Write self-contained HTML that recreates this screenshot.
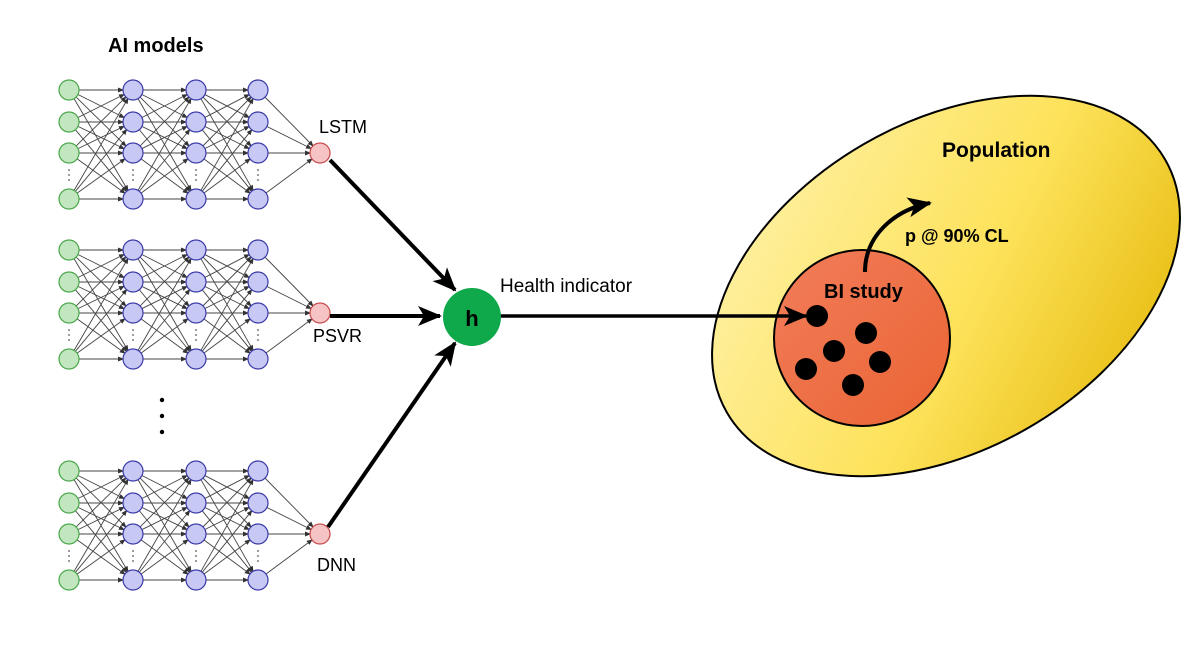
<!DOCTYPE html>
<html><head><meta charset="utf-8"><style>
html,body{margin:0;padding:0;background:#fff;}
svg{display:block;}
text{font-family:"Liberation Sans",sans-serif;}
</style></head><body>
<svg id="s" width="1200" height="645" viewBox="0 0 1200 645" xmlns="http://www.w3.org/2000/svg">
<defs>
<marker id="sa" markerWidth="6" markerHeight="6" refX="5" refY="3" orient="auto" markerUnits="userSpaceOnUse"><path d="M0,0.5 L6,3 L0,5.5z" fill="#333"/></marker>
<marker id="ba" markerWidth="30" markerHeight="24" refX="22" refY="12" orient="auto" markerUnits="userSpaceOnUse"><path d="M0,2 L24,12 L0,22 L6,12z" fill="#000"/></marker>
<linearGradient id="yg" x1="0" y1="0" x2="1" y2="1"><stop offset="0" stop-color="#fff3b0"/><stop offset="0.55" stop-color="#fde25a"/><stop offset="1" stop-color="#e2b400"/></linearGradient>
<linearGradient id="og" x1="0" y1="0" x2="1" y2="1"><stop offset="0" stop-color="#f27d5a"/><stop offset="1" stop-color="#ea6434"/></linearGradient>
</defs>
<g id="nets"></g>
<text x="108" y="52" font-size="20" font-weight="bold">AI models</text>
<text x="319" y="133" font-size="18">LSTM</text>
<text x="313" y="342" font-size="18">PSVR</text>
<text x="317" y="571" font-size="18">DNN</text>
<circle cx="162" cy="400" r="2.2" fill="#000"/><circle cx="162" cy="416" r="2.2" fill="#000"/><circle cx="162" cy="432" r="2.2" fill="#000"/>
<line x1="330" y1="160" x2="455" y2="290" stroke="#000" stroke-width="4" marker-end="url(#ba)"/>
<line x1="330" y1="316" x2="440" y2="316" stroke="#000" stroke-width="4" marker-end="url(#ba)"/>
<line x1="328" y1="527" x2="455" y2="343" stroke="#000" stroke-width="4" marker-end="url(#ba)"/>
<ellipse cx="946" cy="286" rx="253" ry="164" transform="rotate(-30 946 286)" fill="url(#yg)" stroke="#000" stroke-width="2"/>
<circle cx="862" cy="338" r="88" fill="url(#og)" stroke="#000" stroke-width="2"/>
<line x1="500" y1="316" x2="806" y2="316" stroke="#000" stroke-width="3.5" marker-end="url(#ba)"/>
<circle cx="472" cy="317" r="29" fill="#0fa84a"/>
<text x="472" y="326" font-size="22" font-weight="bold" text-anchor="middle">h</text>
<text x="500" y="292" font-size="19">Health indicator</text>
<path d="M865,272 C865,235 895,210 930,203" fill="none" stroke="#000" stroke-width="4" marker-end="url(#ba)"/>
<text x="942" y="157" font-size="21" font-weight="bold">Population</text>
<text x="905" y="242" font-size="18" font-weight="bold">p @ 90% CL</text>
<text x="824" y="298" font-size="20" font-weight="bold">BI study</text>
<g fill="#000">
<circle cx="817" cy="316" r="11"/><circle cx="866" cy="333" r="11"/><circle cx="834" cy="351" r="11"/>
<circle cx="806" cy="369" r="11"/><circle cx="880" cy="362" r="11"/><circle cx="853" cy="385" r="11"/>
</g>
</svg>
<script>
var g=document.getElementById('nets'),h='';
var cols=[69,133,196,258],offs=[0,160,381],rows=[90,122,153,199],R=10;
offs.forEach(function(o){
 var ry=rows.map(function(r){return r+o;});
 for(var c=0;c<3;c++)for(var i=0;i<4;i++)for(var j=0;j<4;j++){
  var x1=cols[c],y1=ry[i],x2=cols[c+1],y2=ry[j],dx=x2-x1,dy=y2-y1,L=Math.sqrt(dx*dx+dy*dy);
  h+='<line x1="'+(x1+dx/L*R)+'" y1="'+(y1+dy/L*R)+'" x2="'+(x2-dx/L*R)+'" y2="'+(y2-dy/L*R)+'" stroke="#444" stroke-width="0.9" marker-end="url(#sa)"/>';
 }
 var ox=320,oy=ry[2];
 for(var i=0;i<4;i++){var x1=cols[3],y1=ry[i],dx=ox-x1,dy=oy-y1,L=Math.sqrt(dx*dx+dy*dy);
  h+='<line x1="'+(x1+dx/L*R)+'" y1="'+(y1+dy/L*R)+'" x2="'+(ox-dx/L*R)+'" y2="'+(oy-dy/L*R)+'" stroke="#444" stroke-width="0.9" marker-end="url(#sa)"/>';}
 for(var c=0;c<4;c++){
  for(var i=0;i<4;i++){
   h+='<circle cx="'+cols[c]+'" cy="'+ry[i]+'" r="'+R+'" fill="'+(c==0?'#c2e6bf':'#c8c8f4')+'" stroke="'+(c==0?'#4aa84a':'#3a3aa8')+'" stroke-width="1.2"/>';
  }
  for(var k=0;k<3;k++)h+='<circle cx="'+cols[c]+'" cy="'+(ry[2]+17+k*5)+'" r="0.9" fill="#555"/>';
 }
 h+='<circle cx="320" cy="'+oy+'" r="'+R+'" fill="#f6c4c4" stroke="#c84a4a" stroke-width="1.2"/>';
});
g.innerHTML=h;
</script>
</body></html>
